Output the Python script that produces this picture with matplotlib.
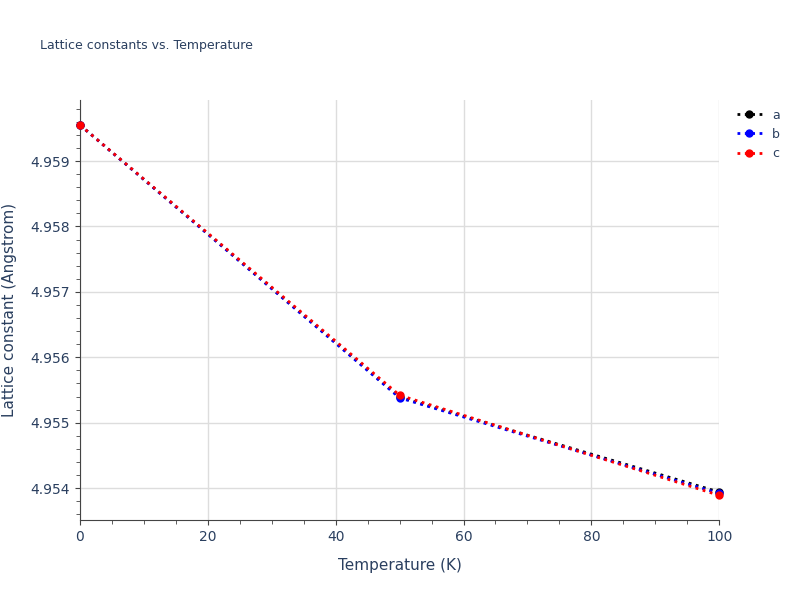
import matplotlib.pyplot as plt
from matplotlib.ticker import MultipleLocator

temps = [0, 50, 100]
lat_a = [4.95955, 4.95539, 4.95394]
lat_b = [4.95955, 4.95538, 4.95392]
lat_c = [4.95955, 4.95542, 4.95389]

txt = '#2a3f5f'
fig = plt.figure(figsize=(8, 6), dpi=100)
ax = fig.add_axes([0.1, 0.133, 0.799, 0.7])

for vals, col, name in [(lat_a, 'black', 'a'), (lat_b, 'blue', 'b'), (lat_c, 'red', 'c')]:
    ax.plot(temps, vals, ':', color=col, lw=2, marker='o', ms=5, label=name, clip_on=False, zorder=3)

ax.set_xlim(0, 100)
ax.set_ylim(4.95351, 4.95993)
ax.xaxis.set_major_locator(MultipleLocator(20))
ax.xaxis.set_minor_locator(MultipleLocator(5))
ax.yaxis.set_major_locator(MultipleLocator(0.001))
ax.yaxis.set_minor_locator(MultipleLocator(0.0002))
ax.yaxis.set_major_formatter(plt.FormatStrFormatter('%.3f'))
ax.grid(True, which='major', color='#dddddd', lw=1)
for s in ['top', 'right']:
    ax.spines[s].set_visible(False)
for s in ['left', 'bottom']:
    ax.spines[s].set_color('#444444')
ax.tick_params(which='both', colors='#444444', labelcolor=txt, labelsize=10)
ax.tick_params(which='minor', length=3)
ax.set_xlabel('Temperature (K)', color=txt, fontsize=11, labelpad=10)
ax.set_ylabel('Lattice constant (Angstrom)', color=txt, fontsize=11, labelpad=10)
fig.text(0.05, 0.918, 'Lattice constants vs. Temperature', color=txt, fontsize=9)
ax.legend(loc='upper left', bbox_to_anchor=(1.01, 1.007), frameon=False, fontsize=9,
          handlelength=2, labelcolor=txt)
fig.savefig('out.png')
